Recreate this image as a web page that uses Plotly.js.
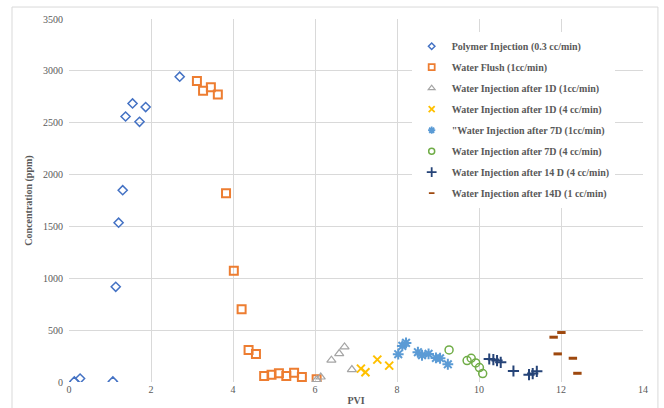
<!DOCTYPE html>
<html>
<head>
<meta charset="utf-8">
<script src="https://cdn.plot.ly/plotly-3.0.1.min.js"></script>
<style>html,body{margin:0;padding:0;background:#fff;}#chart{width:664px;height:408px;}</style>
</head>
<body>
<div id="chart"></div>
<script>
const polyX = [0.13, 0.27, 1.07, 1.14, 1.21, 1.31, 1.38, 1.55, 1.72, 1.87, 2.70];
const polyY = [5, 33, 5, 918, 1536, 1849, 2560, 2686, 2509, 2651, 2944];

const flushX = [3.12, 3.27, 3.46, 3.63, 3.83, 4.02, 4.21, 4.38, 4.56, 4.76, 4.94, 5.12, 5.30, 5.49, 5.68, 6.04];
const flushY = [2902, 2809, 2841, 2773, 1820, 1073, 702, 309, 271, 58, 71, 84, 58, 90, 48, 26];

const w1d1X = [6.04, 6.14, 6.40, 6.59, 6.72, 6.90];
const w1d1Y = [23, 48, 210, 274, 338, 120];

const w1d4X = [7.12, 7.23, 7.52, 7.81];
const w1d4Y = [129, 94, 216, 158];

const w7d1X = [8.03, 8.13, 8.22, 8.51, 8.61, 8.77, 8.95, 9.05, 9.24];
const w7d1Y = [268, 348, 377, 287, 258, 271, 232, 229, 171];

const w7d4X = [9.27, 9.71, 9.81, 9.92, 10.01, 10.09];
const w7d4Y = [309, 207, 229, 184, 139, 81];

const w14d4X = [10.25, 10.35, 10.44, 10.53, 10.84, 11.22, 11.31, 11.41];
const w14d4Y = [222, 216, 207, 190, 106, 71, 81, 103];

const w14d1X = [11.82, 12.01, 11.92, 12.29, 12.40];
const w14d1Y = [432, 477, 271, 229, 84];

const seriesNames = [
  "Polymer Injection (0.3 cc/min)",
  "Water Flush (1cc/min)",
  "Water Injection after 1D (1cc/min)",
  "Water Injection after 1D (4 cc/min)",
  "\"Water Injection after 7D (1cc/min)",
  "Water Injection after 7D (4 cc/min)",
  "Water Injection after 14 D (4 cc/min)",
  "Water Injection after 14D (1 cc/min)"
];
const xTicks = [0, 2, 4, 6, 8, 10, 12, 14];
const yTicks = [0, 500, 1000, 1500, 2000, 2500, 3000, 3500];

const xs = [polyX, flushX, w1d1X, w1d4X, w7d1X, w7d4X, w14d4X, w14d1X];
const ys = [polyY, flushY, w1d1Y, w1d4Y, w7d1Y, w7d4Y, w14d4Y, w14d1Y];
const colors = ["#4472C4", "#ED7D31", "#A5A5A5", "#FFC000", "#5B9BD5", "#70AD47", "#264478", "#9E480E"];
const symbols = ["diamond-open", "square-open", "triangle-up-open", "x-thin-open", "asterisk-open", "circle-open", "cross-thin-open", "line-ew-open"];
const sizes = [7, 8, 8, 8, 9, 8, 8, 6];
const widths = [1.5, 2, 1.2, 2, 2, 1.5, 2, 3];
const legSizes = [5, 6, 6, 6, 6, 6, 7, 4];

const traces = [];
xs.forEach((x, i) => {
  traces.push({
    type: "scatter", mode: "markers", x: x, y: ys[i], name: seriesNames[i],
    legendgroup: "g" + i, showlegend: false,
    marker: {symbol: symbols[i], size: sizes[i], color: colors[i], line: {color: colors[i], width: widths[i]}}
  });
});
xs.forEach((x, i) => {
  traces.push({
    type: "scatter", mode: "markers", x: [null], y: [null], name: seriesNames[i],
    legendgroup: "g" + i, showlegend: true, hoverinfo: "skip",
    marker: {symbol: symbols[i], size: legSizes[i], color: colors[i], line: {color: colors[i], width: Math.min(widths[i], 1.8)}}
  });
});

const layout = {
  width: 664,
  height: 408,
  margin: {l: 69, r: 21, t: 19, b: 26},
  paper_bgcolor: "#fff",
  plot_bgcolor: "#fff",
  font: {family: "Liberation Serif", color: "#595959", size: 10},
  showlegend: true,
  legend: {
    x: 0.597, y: 0.965, xanchor: "left", yanchor: "top",
    bgcolor: "#fff",
    font: {family: "Liberation Serif", size: 10, color: "#595959", weight: "bold"},
    tracegroupgap: 2,
    itemwidth: 30
  },
  xaxis: {
    range: [0, 14], tickvals: xTicks, ticktext: xTicks.map(String),
    showgrid: true, gridcolor: "#D9D9D9", gridwidth: 1,
    zeroline: false, showline: false, ticks: "",
    tickfont: {size: 10, color: "#595959"},
    title: {text: "<b>PVI</b>", font: {size: 10, color: "#595959"}, standoff: 2}
  },
  yaxis: {
    range: [0, 3500], tickvals: yTicks, ticktext: yTicks.map(String),
    showgrid: true, gridcolor: "#D9D9D9", gridwidth: 1,
    zeroline: false, showline: false, ticks: "",
    ticklabelstandoff: 5,
    tickfont: {size: 10, color: "#595959"},
    title: {text: "<b>Concentration (ppm)</b>", font: {size: 10, color: "#595959"}, standoff: 8}
  },
  shapes: [{
    type: "rect", xref: "paper", yref: "paper",
    x0: -0.0993, x1: 1.026, y0: -0.15, y1: 1.033,
    line: {color: "#D9D9D9", width: 1}, fillcolor: "rgba(0,0,0,0)", layer: "below"
  }]
};

Plotly.newPlot("chart", traces, layout, {displayModeBar: false, staticPlot: true});
</script>
</body>
</html>
